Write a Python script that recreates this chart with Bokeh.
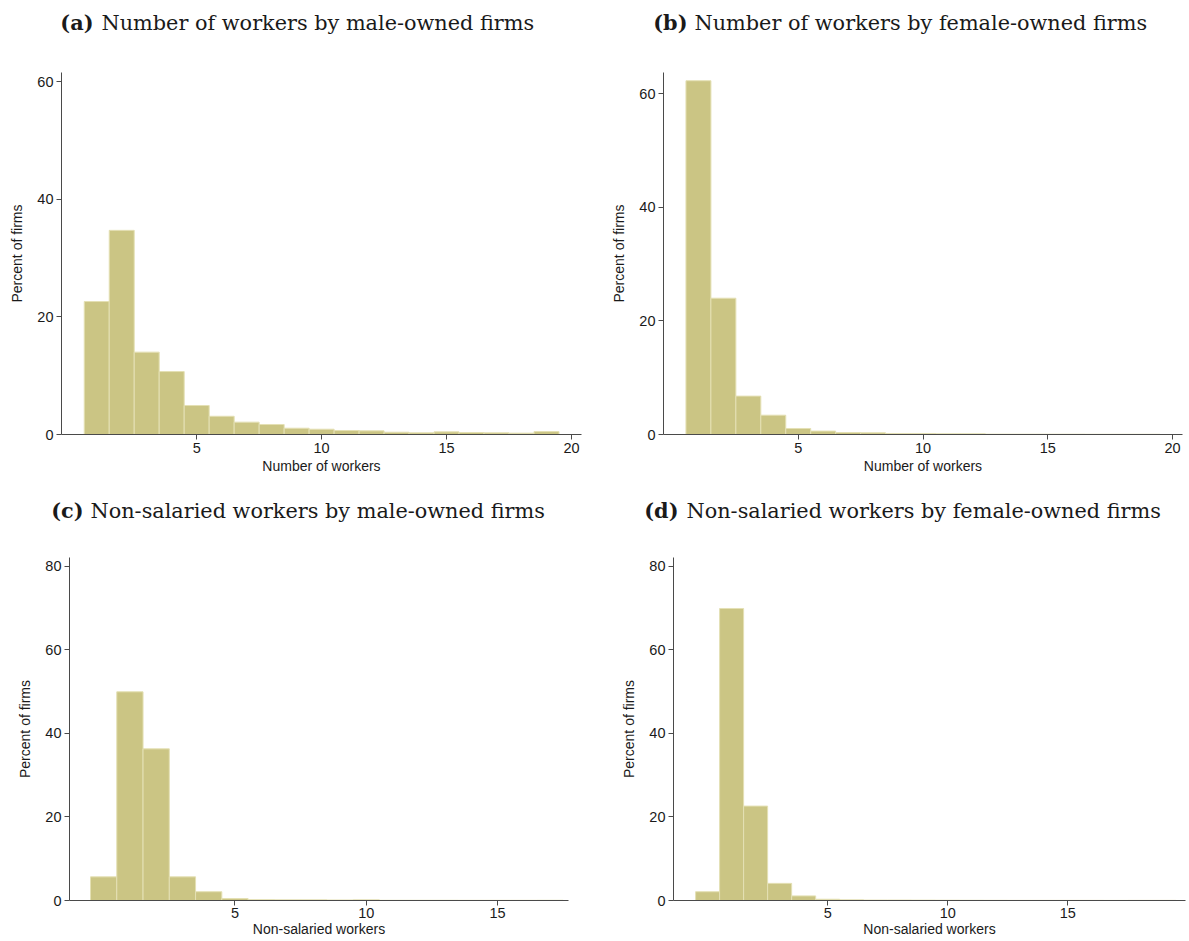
from bokeh.plotting import figure
from bokeh.models import Label, Range1d, FixedTicker
from bokeh.layouts import column, row
from bokeh.embed import file_html
from bokeh.resources import INLINE

# ---------------- data ----------------
# (a) number of workers, male-owned firms
a_workers = list(range(1, 20))
a_percent = [22.6, 34.7, 14.0, 10.7, 4.93, 3.1, 2.1, 1.7, 1.07, 0.9,
             0.68, 0.62, 0.39, 0.28, 0.45, 0.34, 0.28, 0.23, 0.5]
# (b) number of workers, female-owned firms
b_workers = list(range(1, 20))
b_percent = [62.3, 24.0, 6.76, 3.4, 1.06, 0.6, 0.35, 0.3, 0.18, 0.18,
             0.12, 0.12, 0.06, 0.05, 0.05, 0.05, 0.04, 0.04, 0.04]
# (c) non-salaried workers, male-owned firms
c_workers = list(range(0, 18))
c_percent = [5.66, 49.95, 36.3, 5.66, 2.1, 0.47, 0.2, 0.15, 0.15, 0.12,
             0.15, 0.05, 0.05, 0.05, 0.04, 0.04, 0.04, 0.05]
# (d) non-salaried workers, female-owned firms
d_workers = list(range(0, 20))
d_percent = [2.1, 69.9, 22.6, 4.1, 1.1, 0.3, 0.15, 0.1, 0.1, 0.08,
             0.06, 0.05, 0.04, 0.03, 0.03, 0.03, 0.03, 0.02, 0.03, 0.03]

titles_bold = ["(a)", "(b)", "(c)", "(d)"]
titles_text = ["Number of workers by male-owned firms",
               "Number of workers by female-owned firms",
               "Non-salaried workers by male-owned firms",
               "Non-salaried workers by female-owned firms"]
x_labels = ["Number of workers", "Number of workers",
            "Non-salaried workers", "Non-salaried workers"]
y_label = "Percent of firms"
x_ticks_top = [5, 10, 15, 20]
x_ticks_bottom = [5, 10, 15]
y_ticks_top = [0, 20, 40, 60]
y_ticks_bottom = [0, 20, 40, 60, 80]

# ---------------- style ----------------
BAR_FILL = "#cbc584"
BAR_LINE = "#e4e0b4"
AXIS_COLOR = "#4a4a4a"
TEXT_COLOR = "#1a1a1a"
SANS = "Liberation Sans"
SERIF = "DejaVu Serif"
TITLE_SIZE = "20.8px"


def header(W, H, bold, text, bold_right, text_x, baseline):
    """A blank strip that carries the panel title (bold tag + plain text)."""
    h = figure(width=W, height=H, output_backend="svg", toolbar_location=None,
               x_range=Range1d(0, W), y_range=Range1d(0, H),
               x_axis_type=None, y_axis_type=None,
               min_border_left=0, min_border_right=0,
               min_border_top=0, min_border_bottom=0)
    h.outline_line_color = None
    h.xgrid.visible = False
    h.ygrid.visible = False
    h.add_layout(Label(x=bold_right, y=H - baseline, text=bold, text_font=SERIF,
                       text_font_size=TITLE_SIZE, text_font_style="bold",
                       text_color=TEXT_COLOR, text_baseline="alphabetic",
                       text_align="right"))
    h.add_layout(Label(x=text_x, y=H - baseline, text=text, text_font=SERIF,
                       text_font_size=TITLE_SIZE, text_color=TEXT_COLOR,
                       text_baseline="alphabetic", text_align="left"))
    return h


def panel(xs, ys, x_range, y_range, xticks, yticks, W, H, borders, xlabel,
          tick_standoff, label_standoff):
    bl, br, bt, bb = borders
    p = figure(width=W, height=H, output_backend="svg", toolbar_location=None,
               x_range=Range1d(*x_range), y_range=Range1d(*y_range),
               min_border_left=bl, min_border_right=br,
               min_border_top=bt, min_border_bottom=bb)
    p.vbar(x=xs, top=ys, width=1, bottom=0, fill_color=BAR_FILL,
           line_color=BAR_LINE, line_width=1)
    p.outline_line_color = None
    p.xgrid.visible = False
    p.ygrid.visible = False

    for ax in (p.xaxis[0], p.yaxis[0]):
        ax.axis_line_color = AXIS_COLOR
        ax.axis_line_width = 1
        ax.major_tick_line_color = AXIS_COLOR
        ax.major_tick_out = 5
        ax.major_tick_in = 0
        ax.minor_tick_line_color = None
        ax.major_label_text_font = SANS
        ax.major_label_text_font_size = "14.5px"
        ax.major_label_text_color = TEXT_COLOR
        ax.major_label_standoff = 3
        ax.axis_label_text_font = SANS
        ax.axis_label_text_font_size = "14px"
        ax.axis_label_text_font_style = "normal"
        ax.axis_label_text_color = TEXT_COLOR
    p.xaxis.ticker = FixedTicker(ticks=xticks)
    p.yaxis.ticker = FixedTicker(ticks=yticks)
    p.xaxis.axis_label = xlabel
    p.yaxis.axis_label = y_label
    p.xaxis.major_label_standoff = tick_standoff
    p.xaxis.axis_label_standoff = label_standoff
    p.yaxis.axis_label_standoff = 9
    return p


# header strips (page rows 0-44 and 478-530)
ha = header(600, 44, titles_bold[0], titles_text[0], 93, 101, 22)
hb = header(589, 44, titles_bold[1], titles_text[1], 87, 94, 22)
hc = header(600, 52, titles_bold[2], titles_text[2], 83, 90, 32)
hd = header(589, 52, titles_bold[3], titles_text[3], 78, 86, 32)

# plots: borders = (left, right, top, bottom)
pa = panel(a_workers, a_percent, (-0.41, 20.4), (0, 61.53), x_ticks_top, y_ticks_top,
           600, 434, (61, 19, 28, 44), x_labels[0], 3, 2)
pb = panel(b_workers, b_percent, (-0.4, 20.4), (0, 63.75), x_ticks_top, y_ticks_top,
           589, 434, (63, 7, 28, 44), x_labels[1], 3, 2)
pc = panel(c_workers, c_percent, (-1.3, 17.7), (0, 82.1), x_ticks_bottom, y_ticks_bottom,
           600, 411, (69, 32, 27, 41), x_labels[2], 2, 0)
pd = panel(d_workers, d_percent, (-1.42, 19.9), (0, 82.1), x_ticks_bottom, y_ticks_bottom,
           589, 411, (73, 4, 27, 41), x_labels[3], 2, 0)

layout = column(row(ha, hb), row(pa, pb), row(hc, hd), row(pc, pd))
open("out.html", "w").write(file_html(layout, INLINE))
